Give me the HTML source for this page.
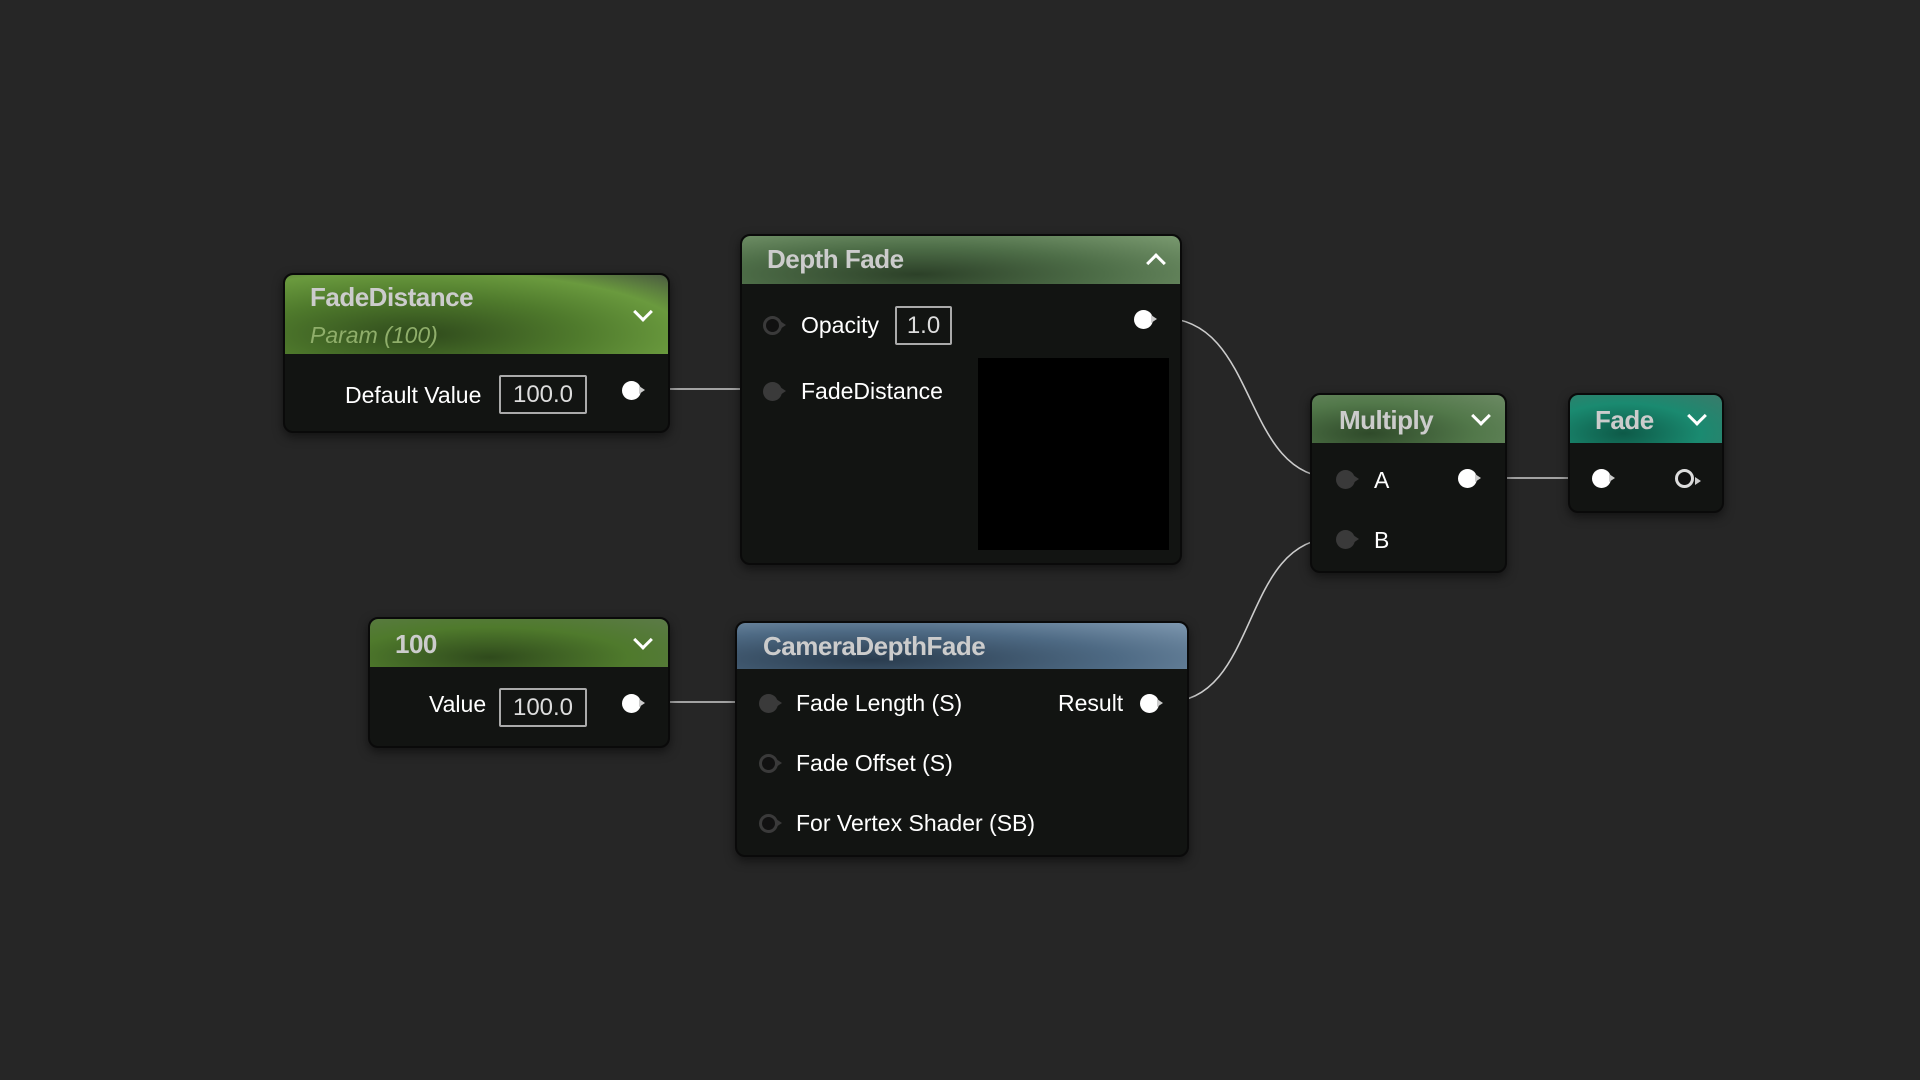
<!DOCTYPE html>
<html><head><meta charset="utf-8"><style>
body{margin:0;width:1920px;height:1080px;background:#262626;overflow:hidden;font-family:"Liberation Sans",sans-serif;color:#fff;position:relative}
.n{position:absolute;background:#121412;border:2px solid #0a0a0a;border-radius:10px;box-shadow:0 4px 10px rgba(0,0,0,.5);overflow:hidden}
.h{position:absolute;left:0;right:0;top:0;border-radius:8px 8px 0 0}
.t{position:absolute;font-weight:bold;font-size:26px;color:#ccc;letter-spacing:-0.5px}
.l{position:absolute;font-size:23px;color:#fff;line-height:24px}
.box{position:absolute;border:2px solid #aaa;border-radius:2px;font-size:24px;text-align:center;color:#ddd;box-sizing:border-box}
.pin{position:absolute;width:19px;height:19px;border-radius:50%;background:#fff}
.pin:after{content:"";position:absolute;left:17px;top:5px;border-left:6px solid #ccc;border-top:4px solid transparent;border-bottom:4px solid transparent}
.ip{background:#3a3a3a}
.ip:after{border-left-color:#3a3a3a}
.ring{background:#111;border:3px solid #3a3a3a;box-sizing:border-box}
.ring:after{border-left-color:#3a3a3a;left:14px;top:2px}
.chev{position:absolute;width:11px;height:11px;border-right:3px solid #fff;border-bottom:3px solid #fff;transform:rotate(45deg)}
.up{transform:rotate(-135deg)}
</style></head><body>
<svg style="position:absolute;left:0;top:0" width="1920" height="1080">
<g stroke="#ccc" stroke-width="1.6" fill="none">
<path d="M650 389 L763 389"/>
<path d="M1162 318 C1260 318 1240 478 1335 478"/>
<path d="M1167 702 C1260 702 1240 538 1335 538"/>
<path d="M1488 478 L1592 478"/>
<path d="M650 702 L760 702"/>
</g></svg>

<!-- FadeDistance -->
<div class="n" style="left:283px;top:273px;width:383px;height:156px">
<div class="h" style="height:79px;background:radial-gradient(ellipse at 35% 75%,#2f4a1c 0%,#4f7a2c 45%,#6a9a3e 75%,#4a5a40 100%)"></div>
<div class="t" style="left:25px;top:7px">FadeDistance</div>
<div class="l" style="left:25px;top:48px;font-style:italic;color:#8fae6a">Param (100)</div>
<div class="chev" style="left:351px;top:30px"></div>
<div class="l" style="left:60px;top:108px">Default Value</div>
<div class="box" style="left:214px;top:100px;width:88px;height:39px;line-height:35px">100.0</div>
<div class="pin" style="left:337px;top:106px"></div>
</div>

<!-- Depth Fade -->
<div class="n" style="left:740px;top:234px;width:438px;height:327px">
<div class="h" style="height:48px;background:radial-gradient(ellipse at 40% 80%,#2c4028 0%,#4e6e48 50%,#7a9a70 100%)"></div>
<div class="t" style="left:25px;top:8px">Depth Fade</div>
<div class="chev up" style="left:407px;top:20px"></div>
<div class="pin ring" style="left:21px;top:80px"></div>
<div class="l" style="left:59px;top:77px">Opacity</div>
<div class="box" style="left:153px;top:70px;width:57px;height:39px;line-height:35px">1.0</div>
<div class="pin" style="left:392px;top:74px"></div>
<div class="pin ip" style="left:21px;top:146px"></div>
<div class="l" style="left:59px;top:143px">FadeDistance</div>
<div style="position:absolute;left:236px;top:122px;width:191px;height:192px;background:#000"></div>
</div>

<!-- Multiply -->
<div class="n" style="left:1310px;top:393px;width:193px;height:176px">
<div class="h" style="height:48px;background:radial-gradient(ellipse at 30% 80%,#2f4a2a 0%,#52784a 55%,#6c8a64 100%)"></div>
<div class="t" style="left:27px;top:10px">Multiply</div>
<div class="chev" style="left:162px;top:14px"></div>
<div class="pin ip" style="left:24px;top:75px"></div>
<div class="l" style="left:62px;top:73px">A</div>
<div class="pin" style="left:146px;top:74px"></div>
<div class="pin ip" style="left:24px;top:135px"></div>
<div class="l" style="left:62px;top:133px">B</div>
</div>

<!-- Fade -->
<div class="n" style="left:1568px;top:393px;width:152px;height:116px">
<div class="h" style="height:48px;background:radial-gradient(ellipse at 35% 80%,#0e5a48 0%,#1a8a70 55%,#3a7a6a 100%)"></div>
<div class="t" style="left:25px;top:10px">Fade</div>
<div class="chev" style="left:120px;top:14px"></div>
<div class="pin" style="left:22px;top:74px"></div>
<div class="pin" style="left:105px;top:74px;background:#111;border:3px solid #ddd;box-sizing:border-box"></div>
</div>

<!-- 100 -->
<div class="n" style="left:368px;top:617px;width:298px;height:127px">
<div class="h" style="height:48px;background:radial-gradient(ellipse at 40% 80%,#2f4a1c 0%,#4f7a2c 55%,#5c7a48 100%)"></div>
<div class="t" style="left:25px;top:10px">100</div>
<div class="chev" style="left:266px;top:14px"></div>
<div class="l" style="left:59px;top:73px">Value</div>
<div class="box" style="left:129px;top:69px;width:88px;height:39px;line-height:35px">100.0</div>
<div class="pin" style="left:252px;top:75px"></div>
</div>

<!-- CameraDepthFade -->
<div class="n" style="left:735px;top:621px;width:450px;height:232px">
<div class="h" style="height:46px;background:radial-gradient(ellipse at 30% 80%,#2a3c4e 0%,#4e6a84 55%,#7e98b0 100%)"></div>
<div class="t" style="left:26px;top:8px">CameraDepthFade</div>
<div class="pin ip" style="left:22px;top:71px"></div>
<div class="l" style="left:59px;top:68px">Fade Length (S)</div>
<div class="l" style="left:321px;top:68px">Result</div>
<div class="pin" style="left:403px;top:71px"></div>
<div class="pin ring" style="left:22px;top:131px"></div>
<div class="l" style="left:59px;top:128px">Fade Offset (S)</div>
<div class="pin ring" style="left:22px;top:191px"></div>
<div class="l" style="left:59px;top:188px">For Vertex Shader (SB)</div>
</div>
</body></html>
